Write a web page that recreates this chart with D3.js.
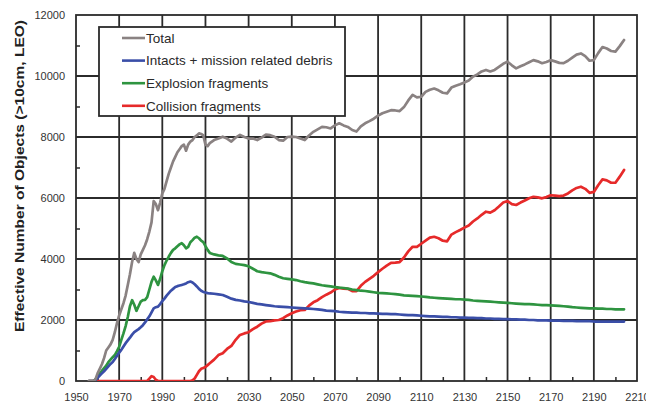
<!DOCTYPE html>
<html>
<head>
<meta charset="utf-8">
<script src="https://cdn.jsdelivr.net/npm/d3@7"></script>
<style>
  html, body { margin: 0; padding: 0; background: #fff; }
  svg { display: block; }
  text { font-family: "Liberation Sans", Arial, sans-serif; }
</style>
</head>
<body>
<svg id="chart" width="646" height="405"></svg>
<script>
// Years: annual up to 2012, every two years afterwards
const years = [...d3.range(1956, 2013), ...d3.range(2014, 2205, 2)];

const total = [
  0, 0, 0, 50,
  250, 400, 550, 750, 1000, 1100, 1200, 1350, 1600, 1900,
  2150, 2350, 2550, 2800, 3150, 3500, 3900, 4200, 4000, 3900,
  4150, 4300, 4450, 4650, 4900, 5200, 5900, 5800, 5600, 5850,
  6150, 6300, 6550, 6800, 7000, 7200, 7350, 7500, 7600, 7700,
  7750, 7550, 7750, 7850, 7900, 8000, 8050, 8120, 8100, 8050,
  7750, 7700, 7800,
  7900, 7950, 8010, 7950, 7850, 7980, 8070, 8000, 7950, 7950,
  7900, 7980, 8080, 8060, 8010, 7900, 7880, 8000, 8010, 8000,
  7950, 7900, 8050, 8170, 8250, 8330, 8320, 8280, 8380, 8450,
  8380, 8330, 8230, 8180, 8350, 8450, 8520, 8600, 8700, 8780,
  8830, 8880, 8870, 8850, 8980, 9200, 9380, 9300, 9320, 9480,
  9550, 9590, 9530, 9450, 9430, 9620, 9680, 9730, 9790, 9850,
  9980, 10050, 10150, 10200, 10150, 10200, 10300, 10400, 10470, 10350,
  10250, 10320, 10380, 10450, 10520, 10480, 10420, 10460, 10520, 10480,
  10430, 10420, 10500, 10600, 10700, 10740, 10650, 10500, 10520, 10750,
  10950, 10900, 10820, 10800, 10980, 11180
];

const intacts = [
  0, 0, 0, 30,
  100, 180, 250, 320, 400, 480, 560, 620, 720, 830,
  930, 1020, 1130, 1240, 1330, 1420, 1520, 1600, 1650, 1700,
  1760, 1830, 1920, 2020, 2120, 2250, 2380, 2420, 2440, 2520,
  2620, 2700, 2800, 2880, 2960, 3020, 3080, 3110, 3130, 3150,
  3170, 3200, 3240, 3260, 3230, 3170, 3100, 3020, 2960, 2920,
  2900, 2880, 2870,
  2860, 2840, 2820, 2760, 2700, 2660, 2640, 2610, 2590, 2560,
  2530, 2510, 2490, 2470, 2450, 2440, 2430, 2420, 2410, 2400,
  2390, 2380, 2370, 2360, 2350, 2330, 2310, 2300, 2290, 2270,
  2260, 2250, 2240, 2240, 2230, 2230, 2220, 2220, 2210, 2200,
  2200, 2190, 2190, 2180, 2170, 2160, 2160, 2150, 2140, 2130,
  2120, 2120, 2110, 2100, 2100, 2090, 2090, 2080, 2080, 2070,
  2070, 2060, 2060, 2050, 2050, 2040, 2040, 2030, 2030, 2020,
  2020, 2010, 2010, 2000, 2000, 1990, 1990, 1990, 1980, 1980,
  1980, 1970, 1970, 1970, 1960, 1960, 1960, 1960, 1950, 1950,
  1950, 1950, 1950, 1950, 1950, 1950
];

const explosion = [
  0, 0, 0, 50,
  150, 250, 330, 420, 500, 620, 700, 780, 850, 980,
  1120, 1350, 1560, 1800, 2100, 2450, 2650, 2500, 2300, 2450,
  2600, 2650, 2660, 2750, 3000, 3250, 3420, 3300, 3150, 3350,
  3600, 3800, 3950, 4080, 4200, 4300, 4350, 4420, 4480, 4520,
  4450, 4350, 4400, 4550, 4620, 4700, 4730, 4680, 4600, 4550,
  4420, 4300, 4200,
  4150, 4120, 4100, 4020, 3900, 3840, 3820, 3800, 3760, 3680,
  3600, 3570, 3550, 3530, 3480, 3420, 3370, 3350, 3330, 3310,
  3270, 3240, 3220, 3200, 3170, 3140, 3120, 3100, 3080, 3060,
  3050, 3030, 3000, 2980, 2960, 2950, 2930, 2910, 2890, 2880,
  2870, 2860, 2850, 2830, 2810, 2800, 2790, 2780, 2770, 2760,
  2740, 2730, 2720, 2710, 2700, 2690, 2680, 2680, 2670, 2660,
  2640, 2630, 2620, 2610, 2600, 2590, 2580, 2570, 2560, 2550,
  2540, 2530, 2520, 2520, 2510, 2500, 2490, 2490, 2480, 2470,
  2460, 2450, 2440, 2420, 2410, 2400, 2390, 2380, 2380, 2370,
  2370, 2360, 2360, 2350, 2350, 2350
];

const collision = [
  0, 0, 0, 0,
  0, 0, 0, 0, 0, 0, 0, 0, 0, 0,
  0, 0, 0, 0, 0, 0, 0, 0, 0, 0,
  0, 0, 0, 0, 80, 160, 130, 40, 0, 0,
  0, 0, 0, 0, 0, 0, 0, 0, 0, 0,
  0, 0, 0, 0, 20, 80, 200, 320, 400, 430,
  460, 520, 580,
  700, 850, 910, 1050, 1150, 1350, 1510, 1560, 1600, 1700,
  1780, 1880, 1950, 1960, 1990, 2000, 2060, 2150, 2220, 2280,
  2320, 2330, 2470, 2580, 2650, 2750, 2830, 2900, 3000, 3050,
  3030, 3020, 2950, 2950, 3120, 3250, 3350, 3450, 3570, 3680,
  3780, 3870, 3880, 3900, 4050, 4250, 4400, 4400, 4500, 4600,
  4700, 4730, 4680, 4600, 4580, 4800, 4880, 4950, 5030, 5100,
  5230, 5330, 5450, 5550, 5520, 5600, 5720, 5850, 5900, 5800,
  5770, 5850, 5920, 5990, 6040, 6020, 5990, 6030, 6090, 6080,
  6060, 6080, 6150, 6250, 6330, 6370, 6300, 6170, 6200, 6420,
  6610, 6580, 6500, 6500, 6700, 6920
];

const seriesNames = ["Total", "Intacts + mission related debris", "Explosion fragments", "Collision fragments"];
const seriesColors = ["#8a8282", "#3a4ea8", "#2e9440", "#e62a2a"];
const seriesValues = [total, intacts, explosion, collision];

const xMajorTicks = d3.range(1950, 2211, 20);
const xMinorTicks = d3.range(1960, 2210, 20);
const yMajorTicks = d3.range(0, 12001, 2000);
const yMinorTicks = d3.range(1000, 12000, 2000);
const yTitle = "Effective Number of Objects (>10cm, LEO)";

(function draw() {
  const svg = d3.select("#chart");
  const plotLeft = 76, plotRight = 637, plotTop = 15, plotBottom = 381;

  const x = d3.scaleLinear().domain([1950, 2210]).range([plotLeft, plotRight]);
  const y = d3.scaleLinear().domain([0, 12000]).range([plotBottom, plotTop]);

  const gridColor = "#2b2b2b";

  // grid lines
  const grid = svg.append("g");
  grid.selectAll("line.v")
    .data(xMajorTicks.slice(1, -1))
    .join("line").attr("class", "v")
    .attr("x1", d => x(d)).attr("x2", d => x(d))
    .attr("y1", plotTop).attr("y2", plotBottom)
    .attr("stroke", gridColor).attr("stroke-width", 1.8);
  grid.selectAll("line.h")
    .data(yMajorTicks.slice(1, -1))
    .join("line").attr("class", "h")
    .attr("x1", plotLeft).attr("x2", plotRight)
    .attr("y1", d => y(d)).attr("y2", d => y(d))
    .attr("stroke", gridColor).attr("stroke-width", 1.8);

  // plot frame
  svg.append("rect")
    .attr("x", plotLeft).attr("y", plotTop)
    .attr("width", plotRight - plotLeft).attr("height", plotBottom - plotTop)
    .attr("fill", "none").attr("stroke", gridColor).attr("stroke-width", 1.8);

  // axes with labels
  const xAxis = d3.axisBottom(x).tickValues(xMajorTicks).tickSize(0).tickPadding(12).tickFormat(d3.format("d"));
  const gx = svg.append("g").attr("transform", `translate(0,${plotBottom})`).call(xAxis);
  gx.select(".domain").remove();
  gx.selectAll("text").attr("font-size", 11).attr("fill", "#333")
    .attr("font-family", "'Liberation Sans', Arial, sans-serif");

  const yAxis = d3.axisLeft(y).tickValues(yMajorTicks).tickSize(0).tickPadding(11).tickFormat(d3.format("d"));
  const gy = svg.append("g").attr("transform", `translate(${plotLeft},0)`).call(yAxis);
  gy.select(".domain").remove();
  gy.selectAll("text").attr("font-size", 11).attr("fill", "#333")
    .attr("font-family", "'Liberation Sans', Arial, sans-serif");

  // minor ticks inside the frame
  const gxm = svg.append("g").attr("transform", `translate(0,${plotBottom})`)
    .call(d3.axisBottom(x).tickValues(xMinorTicks).tickSize(-4).tickFormat(""));
  gxm.select(".domain").remove();
  gxm.selectAll("line").attr("stroke", gridColor).attr("stroke-width", 1.5);

  const gym = svg.append("g").attr("transform", `translate(${plotLeft},0)`)
    .call(d3.axisLeft(y).tickValues(yMinorTicks).tickSize(-4).tickFormat(""));
  gym.select(".domain").remove();
  gym.selectAll("line").attr("stroke", gridColor).attr("stroke-width", 1.5);

  // y axis title
  svg.append("text")
    .attr("transform", "translate(24,176) rotate(-90)")
    .attr("text-anchor", "middle")
    .attr("font-size", 13).attr("font-weight", "bold").attr("fill", "#222")
    .attr("textLength", 312).attr("lengthAdjust", "spacingAndGlyphs")
    .text(yTitle);

  // series lines
  const line = d3.line()
    .x((d, i) => x(years[i]))
    .y(d => y(d));

  svg.append("clipPath").attr("id", "plotClip")
    .append("rect").attr("x", plotLeft).attr("y", plotTop - 2)
    .attr("width", plotRight - plotLeft).attr("height", plotBottom - plotTop + 2);

  const lines = svg.append("g").attr("clip-path", "url(#plotClip)");
  [3, 2, 1, 0].forEach(k => {
    lines.append("path")
      .attr("d", line(seriesValues[k]))
      .attr("fill", "none")
      .attr("stroke", seriesColors[k])
      .attr("stroke-width", 2.7)
      .attr("stroke-linejoin", "round")
      .attr("stroke-linecap", "round");
  });

  // legend
  const legend = svg.append("g");
  legend.append("rect")
    .attr("x", 99).attr("y", 27).attr("width", 246).attr("height", 89)
    .attr("fill", "#fff").attr("stroke", gridColor).attr("stroke-width", 1.8);
  seriesNames.forEach((name, i) => {
    const ly = 38 + i * 22.6;
    legend.append("line")
      .attr("x1", 122).attr("x2", 145).attr("y1", ly).attr("y2", ly)
      .attr("stroke", seriesColors[i]).attr("stroke-width", 2.6);
    legend.append("text")
      .attr("x", 146).attr("y", ly + 4.8)
      .attr("font-size", 13.5).attr("fill", "#2a2a2a")
      .text(name);
  });
})();
</script>
</body>
</html>
